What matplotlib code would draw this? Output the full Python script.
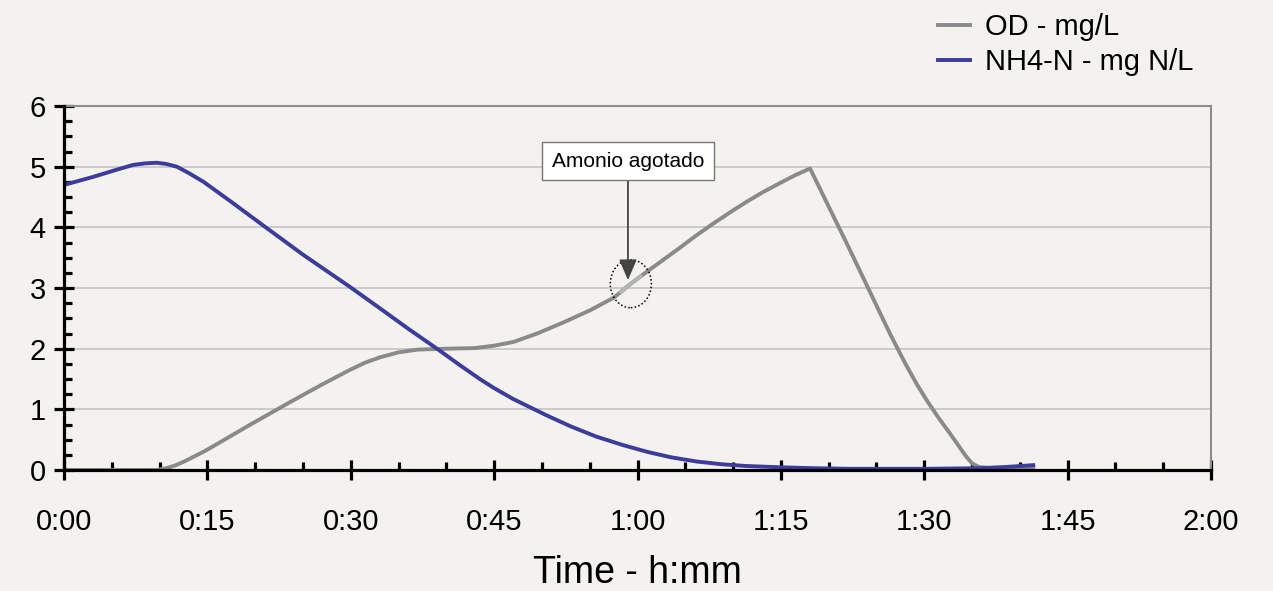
import matplotlib
matplotlib.use('Agg')
import matplotlib.pyplot as plt
from matplotlib.ticker import MultipleLocator, FuncFormatter
from matplotlib.patches import Ellipse

plt.rcParams['font.family'] = ['Liberation Sans Narrow', 'Liberation Sans', 'DejaVu Sans']

# time in minutes
t_nh4 = [0, 3, 5.5, 7.25, 8.5, 9.7, 10.7, 11.8, 13, 14.6, 17.5, 20.5, 25, 29.9, 33.1, 36, 39.2, 41.4, 43.5,
         45, 47, 50.5, 53, 55.7, 58.5, 61, 63.5, 66.2, 68.8, 71.4, 75, 78.4, 82.2, 85.4, 90, 95.8, 98.5, 101.4]
nh4 = [4.70, 4.83, 4.95, 5.03, 5.055, 5.065, 5.045, 5.0, 4.9, 4.75, 4.42, 4.07, 3.55, 3.02, 2.66, 2.33, 1.98,
       1.73, 1.50, 1.35, 1.17, 0.90, 0.72, 0.55, 0.41, 0.30, 0.21, 0.14, 0.095, 0.066, 0.045, 0.03, 0.02,
       0.02, 0.02, 0.03, 0.05, 0.08]

t_od = [0, 5, 9.7, 10.7, 11.7, 12.7, 13.7, 14.7, 15.7, 19.5, 24, 27, 29.9, 31.5, 33.1, 35, 37, 40, 43,
        45, 47, 49.5, 52.2, 55, 57.5, 58.3, 59.2, 60.3, 62.3, 64.4, 66, 67.9, 70, 71.4, 73, 74.9, 76.5, 78.05,
        82, 85.4, 86.5, 88, 89.2, 90.3, 91.5, 92.7, 93.5, 94.3, 95, 95.7, 97, 101.4]
od = [0, 0, 0.0, 0.03, 0.08, 0.15, 0.23, 0.31, 0.40, 0.75, 1.15, 1.41, 1.65, 1.77, 1.86, 1.94, 1.985, 2.0, 2.01,
      2.05, 2.11, 2.25, 2.43, 2.63, 2.84, 2.94, 3.06, 3.19, 3.42, 3.66, 3.85, 4.06, 4.28, 4.42, 4.57, 4.73, 4.86, 4.97,
      3.7, 2.58, 2.22, 1.76, 1.42, 1.14, 0.86, 0.6, 0.42, 0.24, 0.11, 0.05, 0.03, 0.04]
# portion of OD highlighted inside the dotted circle
hl_start, hl_end = 25, 27

bg = '#f3f2ef'
fig = plt.figure(figsize=(12.73, 5.91), dpi=100, facecolor=bg)
ax = fig.add_axes([0.0503, 0.2047, 0.9010, 0.6159], facecolor=bg)

ax.plot(t_od, od, color='#8a8a8a', lw=2.8, label='OD - mg/L', zorder=3, solid_joinstyle='round')
ax.plot(t_od[hl_start:hl_end + 1], od[hl_start:hl_end + 1], color='#b4b4b4', lw=2.8, zorder=3.5)
ax.plot(t_nh4, nh4, color='#3c3c9c', lw=2.8, label='NH4-N - mg N/L', zorder=4, solid_joinstyle='round')

ax.set_xlim(0, 120)
ax.set_ylim(0, 6)
ax.xaxis.set_major_locator(MultipleLocator(15))
ax.xaxis.set_minor_locator(MultipleLocator(5))
ax.yaxis.set_major_locator(MultipleLocator(1))
ax.yaxis.set_minor_locator(MultipleLocator(0.25))
ax.xaxis.set_major_formatter(FuncFormatter(lambda v, p: f'{int(v)//60}:{int(v)%60:02d}'))

ax.grid(axis='y', which='major', color='#c4c4c4', lw=1.2)
ax.set_axisbelow(True)
for s in ['left', 'bottom']:
    ax.spines[s].set_linewidth(2.3)
    ax.spines[s].set_color('black')
    ax.spines[s].set_zorder(5)
for s in ['top', 'right']:
    ax.spines[s].set_linewidth(1.5)
    ax.spines[s].set_color('#8c8c8c')

ax.tick_params(which='major', direction='inout', length=14, width=2.3, labelsize=21, pad=6)
ax.tick_params(which='minor', direction='in', length=5.5, width=2.3)
ax.tick_params(axis='x', which='major', pad=20)

ax.set_xlabel('Time - h:mm', fontsize=27, labelpad=14)

# annotation
ax.add_patch(Ellipse((59.3, 3.07), 4.3, 0.79, fill=False, ls=(0, (1, 1.5)), lw=1.1,
                     color='black', zorder=6))
ax.annotate('Amonio agotado', xy=(59.0, 3.13), xytext=(59.0, 5.09),
            ha='center', va='center', fontsize=15,
            bbox=dict(boxstyle='square,pad=0.45', fc='white', ec='#777777', lw=1),
            arrowprops=dict(arrowstyle='-|>,head_length=0.7,head_width=0.3', color='#444444',
                            lw=1.3, mutation_scale=18, shrinkA=0, shrinkB=0),
            zorder=7)

ax.legend(loc='upper left', bbox_to_anchor=(938 / 1273, 1 - 13 / 591),
          bbox_transform=fig.transFigure, frameon=False, fontsize=21,
          handlelength=1.1, handletextpad=0.5, labelspacing=0.25, borderpad=0, borderaxespad=0)

fig.savefig('out.png', dpi=100, facecolor=bg)
